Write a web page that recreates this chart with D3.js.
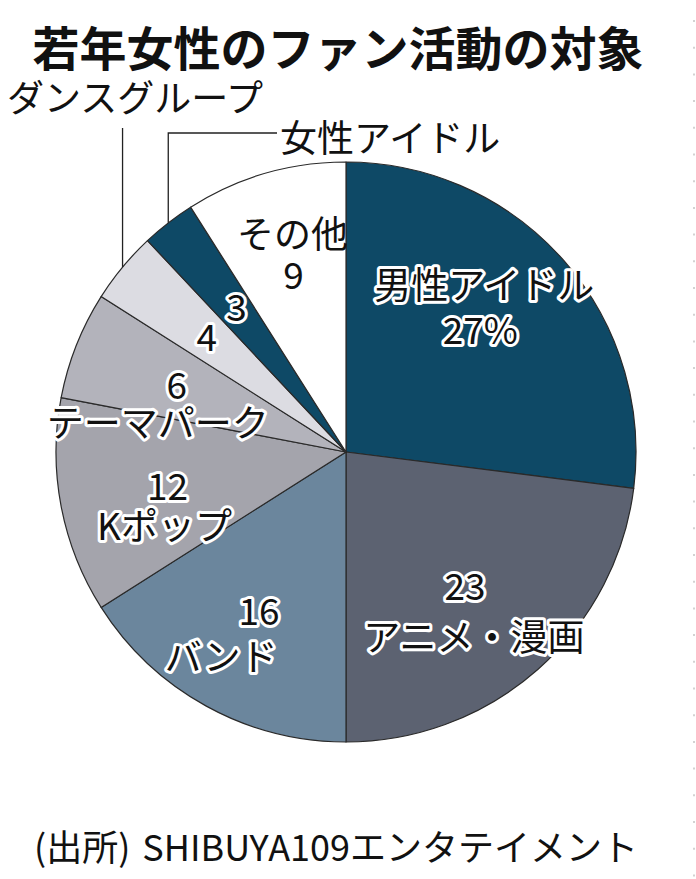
<!DOCTYPE html>
<html>
<head>
<meta charset="utf-8">
<script src="https://cdn.jsdelivr.net/npm/d3@7"></script>
<style>
  html, body { margin: 0; padding: 0; background: #fff; }
  svg { display: block; }
  text { font-family: "Noto Sans CJK JP", "Noto Sans", sans-serif; fill: #111; }
</style>
</head>
<body>
<div id="chart"></div>
<script>
// Data (percent, clockwise from 12 o'clock)
const categories = ["男性アイドル", "アニメ・漫画", "バンド", "Kポップ", "テーマパーク", "ダンスグループ", "女性アイドル", "その他"];
const values = [27, 23, 16, 12, 6, 4, 3, 9];
const colors = ["#0e4966", "#5c6271", "#6b869d", "#a4a4ac", "#b3b3bb", "#dcdce2", "#0e4966", "#ffffff"];

const title = "若年女性のファン活動の対象";
const sourceHead = "(出所)";
const sourceBody = "SHIBUYA109エンタテイメント";

const width = 696, height = 879;
const cx = 346, cy = 452, radius = 290;
const labelRadius = 195;
const labelSize = "37px";

// how each slice label is written: lines and offsets from the label centroid
const labelLayout = {
  "男性アイドル": [["name", -8, -40], ["pct", -12, 5]],
  "アニメ・漫画": [["value", -10, -14], ["name", -1, 37]],
  "バンド": [["value", 7, -14], ["name", -31, 32]],
  "Kポップ": [["value", 13, -5], ["name", 10, 35]],
  "テーマパーク": [["value", 12, 3], ["name", -7, 41]],
  "ダンスグループ": [["value", 11, 7]],
  "女性アイドル": [["value", 10, 7]],
  "その他": [["name", 1, -33], ["value", 2, 8]]
};

// names printed outside the pie with leader lines
const outside = {
  "ダンスグループ": { top: 128, textX: 7, textY: 96 },
  "女性アイドル": { top: 133, elbowTo: 277, textX: 280, textY: 136 }
};

const data = categories.map((c, i) => ({ name: c, value: values[i], color: colors[i] }));

const svg = d3.select("#chart").append("svg")
    .attr("width", width)
    .attr("height", height);

// faint dotted rule on the right edge
svg.append("line")
    .attr("x1", 694).attr("x2", 694)
    .attr("y1", 20).attr("y2", height)
    .attr("stroke", "#c4c4c4")
    .attr("stroke-width", 1.5)
    .attr("stroke-dasharray", "2,24.7");

svg.append("text")
    .attr("x", 338)
    .attr("y", 45)
    .attr("text-anchor", "middle")
    .attr("dominant-baseline", "central")
    .style("font-size", "47px")
    .style("font-weight", "bold")
    .text(title);

const pie = d3.pie().sort(null).value(d => d.value);
const arc = d3.arc().innerRadius(0).outerRadius(radius);
const labelArc = d3.arc().innerRadius(labelRadius).outerRadius(labelRadius);

const g = svg.append("g").attr("transform", `translate(${cx},${cy})`);
const arcs = pie(data);

g.selectAll("path.slice")
    .data(arcs)
    .enter().append("path")
    .attr("class", "slice")
    .attr("d", arc)
    .attr("fill", d => d.data.color)
    .attr("stroke", "#2a2a2a")
    .attr("stroke-width", 1.2)
    .attr("stroke-linejoin", "round");

// leader lines for the small slices
arcs.forEach(d => {
  const o = outside[d.data.name];
  if (!o) return;
  const mid = (d.startAngle + d.endAngle) / 2;
  const px = Math.sin(mid) * radius;
  const py = -Math.cos(mid) * radius;
  const pts = [[px, py], [px, o.top - cy]];
  if (o.elbowTo) pts.push([o.elbowTo - cx, o.top - cy]);
  g.append("path")
      .attr("d", d3.line()(pts))
      .attr("fill", "none")
      .attr("stroke", "#222")
      .attr("stroke-width", 1.3);
  svg.append("text")
      .attr("x", o.textX)
      .attr("y", o.textY)
      .attr("dominant-baseline", "central")
      .style("font-size", labelSize)
      .text(d.data.name);
});

// slice labels with white halo
arcs.forEach(d => {
  const [lx, ly] = labelArc.centroid(d);
  (labelLayout[d.data.name] || []).forEach(([kind, dx, dy]) => {
    const str = kind === "name" ? d.data.name
              : kind === "pct" ? d.data.value + "%"
              : String(d.data.value);
    g.append("text")
        .attr("x", lx + dx)
        .attr("y", ly + dy)
        .attr("text-anchor", "middle")
        .attr("dominant-baseline", "central")
        .style("font-size", labelSize)
        .style("paint-order", "stroke")
        .style("stroke", "#fff")
        .style("stroke-width", d.data.color === "#ffffff" ? 0 : 6)
        .style("stroke-linejoin", "round")
        .text(str);
  });
});

const src = svg.append("text")
    .attr("x", 34)
    .attr("y", 845)
    .attr("dominant-baseline", "central")
    .style("font-size", "36px");
src.append("tspan").text(sourceHead);
src.append("tspan").attr("dx", 12).text(sourceBody);
</script>
</body>
</html>
